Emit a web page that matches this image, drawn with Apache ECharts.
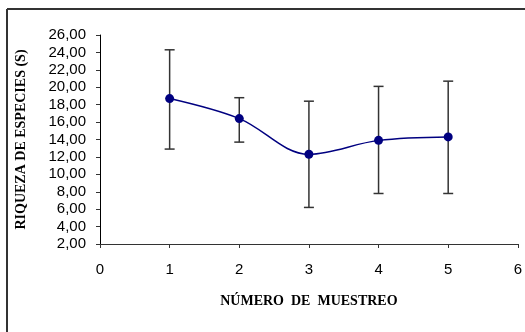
<!DOCTYPE html>
<html><head><meta charset="utf-8">
<script src="https://cdn.jsdelivr.net/npm/echarts@6/dist/echarts.min.js"></script>
<style>html,body{margin:0;padding:0;background:#fff}#c{width:525px;height:332px}</style>
</head><body><div id="c"></div>
<script>
var samples = [1, 2, 3, 4, 5];
var meanValues = [18.7, 16.4, 12.3, 13.9, 14.3];
var upperValues = [24.3, 18.8, 18.4, 20.1, 20.7];
var lowerValues = [12.9, 13.7, 6.2, 7.8, 7.8];
var yTitle = 'RIQUEZA DE ESPECIES (S)';
var xTitle = 'NÚMERO  DE  MUESTREO';

var chart = echarts.init(document.getElementById('c'), null, {renderer: 'canvas'});
var lineData = samples.map(function (x, i) { return [x, meanValues[i]]; });
var errData = samples.map(function (x, i) { return [x, lowerValues[i], upperValues[i]]; });

chart.setOption({
  animation: false,
  backgroundColor: '#fff',
  grid: {left: 100, top: 35, right: 6, bottom: 88},
  graphic: [
    {type: 'line', shape: {x1: 7, y1: 9, x2: 525, y2: 9}, style: {stroke: '#333', lineWidth: 2}},
    {type: 'line', shape: {x1: 7, y1: 9, x2: 7, y2: 332}, style: {stroke: '#333', lineWidth: 2}}
  ],
  xAxis: {
    type: 'value', min: 0, max: 6, interval: 1,
    name: xTitle, nameLocation: 'middle', nameGap: 50,
    nameTextStyle: {fontFamily: 'Liberation Serif', fontWeight: 'bold', fontSize: 14, color: '#000'},
    axisLine: {onZero: false, lineStyle: {color: '#333', width: 1}},
    axisTick: {show: true, inside: false, length: 4, lineStyle: {color: '#333'}},
    axisLabel: {fontFamily: 'Liberation Sans', fontSize: 15, color: '#000', margin: 18},
    splitLine: {show: false}
  },
  yAxis: {
    type: 'value', min: 2, max: 26, interval: 2,
    name: yTitle, nameLocation: 'middle', nameGap: 72, nameRotate: 90,
    nameTextStyle: {fontFamily: 'Liberation Serif', fontWeight: 'bold', fontSize: 14, color: '#000'},
    axisLine: {show: true, lineStyle: {color: '#000', width: 1}},
    axisTick: {show: true, inside: false, length: 4, lineStyle: {color: '#333'}},
    axisLabel: {fontFamily: 'Liberation Sans', fontSize: 15, color: '#000', margin: 14,
      formatter: function (v) { return v.toFixed(2).replace('.', ','); }},
    splitLine: {show: false}
  },
  series: [
    {
      type: 'custom',
      data: errData,
      z: 2,
      renderItem: function (params, api) {
        var x = api.value(0);
        var lo = api.coord([x, api.value(1)]);
        var hi = api.coord([x, api.value(2)]);
        var hw = 5;
        var st = {stroke: '#333', lineWidth: 1.5};
        return {type: 'group', children: [
          {type: 'line', shape: {x1: lo[0], y1: lo[1], x2: hi[0], y2: hi[1]}, style: st},
          {type: 'line', shape: {x1: lo[0] - hw, y1: lo[1], x2: lo[0] + hw, y2: lo[1]}, style: st},
          {type: 'line', shape: {x1: hi[0] - hw, y1: hi[1], x2: hi[0] + hw, y2: hi[1]}, style: st}
        ]};
      }
    },
    {
      type: 'line',
      data: lineData,
      z: 3,
      smooth: 0.35,
      symbol: 'circle',
      symbolSize: 9,
      lineStyle: {color: '#000080', width: 1.5},
      itemStyle: {color: '#000080'}
    }
  ]
});
</script></body></html>
